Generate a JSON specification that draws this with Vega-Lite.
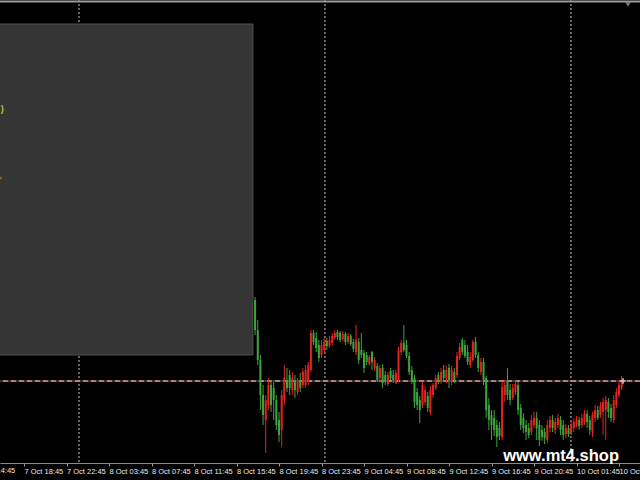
{
  "$schema": "https://vega.github.io/schema/vega-lite/v6.json",
  "width": 640,
  "height": 463,
  "autosize": {"type": "none"},
  "padding": {"left": 0, "top": 0, "right": 0, "bottom": 17},
  "background": "#000000",
  "config": {"view": {"stroke": null, "fill": "#000000"}, "scale": {"continuousPadding": 0}},
  "datasets": {
    "sep": [{"i": 20.7}, {"i": 113.3}, {"i": 205.9}],
    "panel": [{"i1": -10, "i2": 86.2, "p1": 1.1357, "p2": 1.1026}],
    "price": [{"p": 1.1000}],
    "frame": [{"p": 1.13795}],
    "marks": [{"i": 227.4, "p": 1.13765}],
    "cur": [{"i": 225.5, "p": 1.1000}],
    "frag": [{"i": -8.2, "p": 1.1272, "t": ")"}],
    "frag2": [{"i": -8.9, "p": 1.1203}],
    "wm": [{"i": 202.2, "p": 1.0920, "t": "www.mt4.shop"}],
    "firstlabel": [{"i": -17.9, "p": 1.0914, "t": "7 Oct 14:45"}],
    "candles": [
      {"i":87,"o":1.1081,"h":1.1084,"l":1.1046,"c":1.1051},
      {"i":88,"o":1.1051,"h":1.1061,"l":1.1016,"c":1.1021},
      {"i":89,"o":1.1021,"h":1.1026,"l":1.0971,"c":1.0986},
      {"i":90,"o":1.0986,"h":1.0996,"l":1.0956,"c":1.0966},
      {"i":91,"o":1.0961,"h":1.0986,"l":1.0928,"c":1.0981},
      {"i":92,"o":1.0976,"h":1.1003,"l":1.0971,"c":1.0996},
      {"i":93,"o":1.0996,"h":1.1001,"l":1.0969,"c":1.0976},
      {"i":94,"o":1.0993,"h":1.0999,"l":1.0961,"c":1.0981},
      {"i":95,"o":1.0981,"h":1.0986,"l":1.0951,"c":1.0956},
      {"i":96,"o":1.0961,"h":1.0969,"l":1.0939,"c":1.0946},
      {"i":97,"o":1.0951,"h":1.0991,"l":1.0934,"c":1.0986},
      {"i":98,"o":1.0981,"h":1.1016,"l":1.0976,"c":1.1003},
      {"i":99,"o":1.1001,"h":1.1013,"l":1.0989,"c":1.0993},
      {"i":100,"o":1.1006,"h":1.1011,"l":1.0986,"c":1.0993},
      {"i":101,"o":1.0991,"h":1.1009,"l":1.0986,"c":1.1003},
      {"i":102,"o":1.1001,"h":1.1006,"l":1.0983,"c":1.0991},
      {"i":103,"o":1.0989,"h":1.1003,"l":1.0986,"c":1.0999},
      {"i":104,"o":1.1001,"h":1.1008,"l":1.0989,"c":1.0993},
      {"i":105,"o":1.0996,"h":1.1013,"l":1.0993,"c":1.1009},
      {"i":106,"o":1.0996,"h":1.1016,"l":1.0993,"c":1.1011},
      {"i":107,"o":1.0999,"h":1.1019,"l":1.0996,"c":1.1016},
      {"i":108,"o":1.1011,"h":1.1051,"l":1.1009,"c":1.1048},
      {"i":109,"o":1.1048,"h":1.1051,"l":1.1036,"c":1.1039},
      {"i":110,"o":1.1043,"h":1.1049,"l":1.1029,"c":1.1033},
      {"i":111,"o":1.1036,"h":1.1041,"l":1.1019,"c":1.1023},
      {"i":112,"o":1.1026,"h":1.1041,"l":1.1023,"c":1.1036},
      {"i":113,"o":1.1031,"h":1.1043,"l":1.1029,"c":1.1039},
      {"i":114,"o":1.1040,"h":1.1043,"l":1.1031,"c":1.1035},
      {"i":115,"o":1.1035,"h":1.1045,"l":1.1033,"c":1.1041},
      {"i":116,"o":1.1038,"h":1.1048,"l":1.1036,"c":1.1045},
      {"i":117,"o":1.1043,"h":1.1051,"l":1.1041,"c":1.1048},
      {"i":118,"o":1.1049,"h":1.1051,"l":1.1041,"c":1.1044},
      {"i":119,"o":1.1048,"h":1.1050,"l":1.1039,"c":1.1041},
      {"i":120,"o":1.1042,"h":1.1050,"l":1.1040,"c":1.1047},
      {"i":121,"o":1.1047,"h":1.1049,"l":1.1036,"c":1.1039},
      {"i":122,"o":1.1039,"h":1.1048,"l":1.1037,"c":1.1045},
      {"i":123,"o":1.1045,"h":1.1047,"l":1.1035,"c":1.1037},
      {"i":124,"o":1.1039,"h":1.1042,"l":1.1029,"c":1.1032},
      {"i":125,"o":1.1029,"h":1.1056,"l":1.1026,"c":1.1041},
      {"i":126,"o":1.1039,"h":1.1043,"l":1.1017,"c":1.1021},
      {"i":127,"o":1.1031,"h":1.1048,"l":1.1023,"c":1.1026},
      {"i":128,"o":1.1028,"h":1.1031,"l":1.1008,"c":1.1013},
      {"i":129,"o":1.1026,"h":1.1029,"l":1.1016,"c":1.1019},
      {"i":130,"o":1.1017,"h":1.1026,"l":1.1015,"c":1.1024},
      {"i":131,"o":1.1029,"h":1.1030,"l":1.1011,"c":1.1019},
      {"i":132,"o":1.1013,"h":1.1024,"l":1.1010,"c":1.1021},
      {"i":133,"o":1.1015,"h":1.1018,"l":1.0999,"c":1.1001},
      {"i":134,"o":1.1003,"h":1.1016,"l":1.0999,"c":1.1013},
      {"i":135,"o":1.1013,"h":1.1017,"l":1.0993,"c":1.0998},
      {"i":136,"o":1.1006,"h":1.1010,"l":1.0996,"c":1.0999},
      {"i":137,"o":1.0997,"h":1.1009,"l":1.0995,"c":1.1006},
      {"i":138,"o":1.1010,"h":1.1013,"l":1.1001,"c":1.1003},
      {"i":139,"o":1.1006,"h":1.1011,"l":1.0998,"c":1.1001},
      {"i":140,"o":1.0998,"h":1.1011,"l":1.0997,"c":1.1008},
      {"i":141,"o":1.1001,"h":1.1034,"l":1.0999,"c":1.1031},
      {"i":142,"o":1.1029,"h":1.1041,"l":1.1026,"c":1.1038},
      {"i":143,"o":1.1038,"h":1.1056,"l":1.1029,"c":1.1031},
      {"i":144,"o":1.1036,"h":1.1041,"l":1.1023,"c":1.1025},
      {"i":145,"o":1.1025,"h":1.1029,"l":1.1006,"c":1.1009},
      {"i":146,"o":1.1011,"h":1.1015,"l":1.0997,"c":1.0999},
      {"i":147,"o":1.1003,"h":1.1006,"l":1.0973,"c":1.0979},
      {"i":148,"o":1.0989,"h":1.0993,"l":1.0971,"c":1.0976},
      {"i":149,"o":1.0981,"h":1.0985,"l":1.0958,"c":1.0971},
      {"i":150,"o":1.0976,"h":1.0999,"l":1.0973,"c":1.0996},
      {"i":151,"o":1.0979,"h":1.0995,"l":1.0976,"c":1.0991},
      {"i":152,"o":1.0985,"h":1.0989,"l":1.0969,"c":1.0973},
      {"i":153,"o":1.0969,"h":1.0995,"l":1.0966,"c":1.0991},
      {"i":154,"o":1.0986,"h":1.0998,"l":1.0983,"c":1.0996},
      {"i":155,"o":1.0993,"h":1.1006,"l":1.0991,"c":1.1003},
      {"i":156,"o":1.1006,"h":1.1009,"l":1.0997,"c":1.0999},
      {"i":157,"o":1.0999,"h":1.1013,"l":1.0997,"c":1.1009},
      {"i":158,"o":1.1011,"h":1.1016,"l":1.0999,"c":1.1003},
      {"i":159,"o":1.1003,"h":1.1016,"l":1.0998,"c":1.1011},
      {"i":160,"o":1.1013,"h":1.1017,"l":1.0993,"c":1.1001},
      {"i":161,"o":1.0999,"h":1.1015,"l":1.0996,"c":1.1011},
      {"i":162,"o":1.1009,"h":1.1013,"l":1.0998,"c":1.1001},
      {"i":163,"o":1.1006,"h":1.1029,"l":1.1003,"c":1.1025},
      {"i":164,"o":1.1023,"h":1.1038,"l":1.1021,"c":1.1034},
      {"i":165,"o":1.1041,"h":1.1043,"l":1.1026,"c":1.1029},
      {"i":166,"o":1.1036,"h":1.1041,"l":1.1023,"c":1.1025},
      {"i":167,"o":1.1029,"h":1.1036,"l":1.1016,"c":1.1019},
      {"i":168,"o":1.1016,"h":1.1029,"l":1.1013,"c":1.1024},
      {"i":169,"o":1.1021,"h":1.1041,"l":1.1019,"c":1.1039},
      {"i":170,"o":1.1039,"h":1.1044,"l":1.1023,"c":1.1026},
      {"i":171,"o":1.1026,"h":1.1029,"l":1.1009,"c":1.1013},
      {"i":172,"o":1.1009,"h":1.1023,"l":1.1006,"c":1.1019},
      {"i":173,"o":1.1019,"h":1.1023,"l":1.0996,"c":1.1001},
      {"i":174,"o":1.1003,"h":1.1005,"l":1.0963,"c":1.0971},
      {"i":175,"o":1.0976,"h":1.0983,"l":1.0951,"c":1.0961},
      {"i":176,"o":1.0966,"h":1.0971,"l":1.0941,"c":1.0956},
      {"i":177,"o":1.0963,"h":1.0971,"l":1.0945,"c":1.0951},
      {"i":178,"o":1.0956,"h":1.0961,"l":1.0934,"c":1.0944},
      {"i":179,"o":1.0953,"h":1.0959,"l":1.0941,"c":1.0945},
      {"i":180,"o":1.0944,"h":1.0999,"l":1.0941,"c":1.0994},
      {"i":181,"o":1.0986,"h":1.1001,"l":1.0979,"c":1.0996},
      {"i":182,"o":1.1001,"h":1.1013,"l":1.0981,"c":1.0986},
      {"i":183,"o":1.0991,"h":1.0997,"l":1.0976,"c":1.0981},
      {"i":184,"o":1.0983,"h":1.0997,"l":1.0981,"c":1.0993},
      {"i":185,"o":1.0989,"h":1.1001,"l":1.0986,"c":1.0997},
      {"i":186,"o":1.0996,"h":1.0999,"l":1.0966,"c":1.0971},
      {"i":187,"o":1.0973,"h":1.0977,"l":1.0951,"c":1.0956},
      {"i":188,"o":1.0963,"h":1.0968,"l":1.0948,"c":1.0953},
      {"i":189,"o":1.0956,"h":1.0961,"l":1.0941,"c":1.0949},
      {"i":190,"o":1.0953,"h":1.0958,"l":1.0943,"c":1.0946},
      {"i":191,"o":1.0949,"h":1.0966,"l":1.0946,"c":1.0961},
      {"i":192,"o":1.0956,"h":1.0969,"l":1.0953,"c":1.0963},
      {"i":193,"o":1.0963,"h":1.0969,"l":1.0941,"c":1.0953},
      {"i":194,"o":1.0956,"h":1.0961,"l":1.0935,"c":1.0941},
      {"i":195,"o":1.0951,"h":1.0956,"l":1.0940,"c":1.0944},
      {"i":196,"o":1.0949,"h":1.0953,"l":1.0937,"c":1.0943},
      {"i":197,"o":1.0941,"h":1.0961,"l":1.0938,"c":1.0956},
      {"i":198,"o":1.0953,"h":1.0965,"l":1.0949,"c":1.0961},
      {"i":199,"o":1.0961,"h":1.0966,"l":1.0949,"c":1.0953},
      {"i":200,"o":1.0951,"h":1.0963,"l":1.0947,"c":1.0959},
      {"i":201,"o":1.0956,"h":1.0967,"l":1.0953,"c":1.0963},
      {"i":202,"o":1.0961,"h":1.0965,"l":1.0946,"c":1.0951},
      {"i":203,"o":1.0956,"h":1.0961,"l":1.0941,"c":1.0946},
      {"i":204,"o":1.0947,"h":1.0957,"l":1.0943,"c":1.0953},
      {"i":205,"o":1.0953,"h":1.0956,"l":1.0944,"c":1.0947},
      {"i":206,"o":1.0949,"h":1.0961,"l":1.0946,"c":1.0957},
      {"i":207,"o":1.0953,"h":1.0963,"l":1.0949,"c":1.0959},
      {"i":208,"o":1.0957,"h":1.0965,"l":1.0954,"c":1.0961},
      {"i":209,"o":1.0961,"h":1.0964,"l":1.0951,"c":1.0955},
      {"i":210,"o":1.0956,"h":1.0967,"l":1.0953,"c":1.0963},
      {"i":211,"o":1.0959,"h":1.0971,"l":1.0956,"c":1.0967},
      {"i":212,"o":1.0967,"h":1.0971,"l":1.0953,"c":1.0959},
      {"i":213,"o":1.0961,"h":1.0965,"l":1.0946,"c":1.0951},
      {"i":214,"o":1.0949,"h":1.0969,"l":1.0944,"c":1.0966},
      {"i":215,"o":1.0963,"h":1.0976,"l":1.0959,"c":1.0971},
      {"i":216,"o":1.0971,"h":1.0975,"l":1.0961,"c":1.0963},
      {"i":217,"o":1.0966,"h":1.0979,"l":1.0963,"c":1.0975},
      {"i":218,"o":1.0969,"h":1.0983,"l":1.0946,"c":1.0979},
      {"i":219,"o":1.0971,"h":1.0985,"l":1.0941,"c":1.0981},
      {"i":220,"o":1.0979,"h":1.0983,"l":1.0963,"c":1.0969},
      {"i":221,"o":1.0973,"h":1.0977,"l":1.0959,"c":1.0963},
      {"i":222,"o":1.0961,"h":1.0986,"l":1.0958,"c":1.0981},
      {"i":223,"o":1.0976,"h":1.0993,"l":1.0973,"c":1.0989},
      {"i":224,"o":1.0986,"h":1.1001,"l":1.0983,"c":1.0996},
      {"i":225,"o":1.0993,"h":1.1005,"l":1.0991,"c":1.1000}
    ]
  },
  "layer": [
    {
      "data": {"name": "sep"},
      "mark": {"type": "rule", "color": "#c8c8c8", "strokeDash": [2, 2], "strokeWidth": 1},
      "encoding": {
        "x": {
          "field": "i", "type": "quantitative",
          "scale": {"domain": [-9.035, 231.9], "nice": false, "zero": false},
          "axis": {
            "values": [-16, 0, 16, 32, 48, 64, 80, 96, 112, 128, 144, 160, 176, 192, 208, 224],
            "labelExpr": "['7 Oct 14:45','7 Oct 18:45','7 Oct 22:45','8 Oct 03:45','8 Oct 07:45','8 Oct 11:45','8 Oct 15:45','8 Oct 19:45','8 Oct 23:45','9 Oct 04:45','9 Oct 08:45','9 Oct 12:45','9 Oct 16:45','9 Oct 20:45','10 Oct 01:45','10 Oct 05:45'][(datum.value + 16) / 16]",
            "domainColor": "#8a8a8a", "domainWidth": 1,
            "tickColor": "#9a9a9a", "tickSize": 3, "tickWidth": 1,
            "labelColor": "#e8e8e8", "labelFontSize": 7.5, "labelFont": "Liberation Sans",
            "labelAlign": "left", "labelDx": 1, "labelPadding": 1,
            "labelOverlap": false, "labelFlush": false, "labelBound": false,
            "grid": false, "title": null
          }
        }
      }
    },
    {
      "data": {"name": "panel"},
      "mark": {"type": "rect", "fill": "#353535", "stroke": "#4e4e4e", "strokeWidth": 1},
      "encoding": {
        "x": {"field": "i1", "type": "quantitative"},
        "x2": {"field": "i2"},
        "y": {"field": "p1", "type": "quantitative", "scale": {"domain": [1.0918, 1.1381], "nice": false, "zero": false}, "axis": null},
        "y2": {"field": "p2"}
      }
    },
    {
      "data": {"name": "frag"},
      "mark": {"type": "text", "color": "#c8c040", "fontSize": 9, "font": "Liberation Sans", "fontWeight": "bold"},
      "encoding": {
        "x": {"field": "i", "type": "quantitative"},
        "y": {"field": "p", "type": "quantitative"},
        "text": {"field": "t"}
      }
    },
    {
      "data": {"name": "frag2"},
      "mark": {"type": "point", "shape": "square", "size": 6, "filled": true, "color": "#c07a20"},
      "encoding": {
        "x": {"field": "i", "type": "quantitative"},
        "y": {"field": "p", "type": "quantitative"}
      }
    },
    {
      "data": {"name": "price"},
      "mark": {"type": "rule", "color": "#6a6a78", "strokeWidth": 1},
      "encoding": {"y": {"field": "p", "type": "quantitative"}}
    },
    {
      "data": {"name": "price"},
      "mark": {"type": "rule", "color": "#f09080", "strokeWidth": 1.5, "strokeDash": [5, 3]},
      "encoding": {"y": {"field": "p", "type": "quantitative"}}
    },
    {
      "data": {"name": "candles"},
      "mark": {"type": "rule", "strokeWidth": 1},
      "encoding": {
        "x": {"field": "i", "type": "quantitative"},
        "y": {"field": "l", "type": "quantitative"},
        "y2": {"field": "h"},
        "color": {"condition": {"test": "datum.c >= datum.o", "value": "#e3231f"}, "value": "#3ea43e"}
      }
    },
    {
      "data": {"name": "candles"},
      "mark": {"type": "bar", "size": 2},
      "encoding": {
        "x": {"field": "i", "type": "quantitative"},
        "y": {"field": "o", "type": "quantitative"},
        "y2": {"field": "c"},
        "color": {"condition": {"test": "datum.c >= datum.o", "value": "#e3231f"}, "value": "#3ea43e"}
      }
    },
    {
      "data": {"name": "cur"},
      "mark": {"type": "point", "shape": "cross", "size": 28, "filled": true, "color": "#f4d4d4"},
      "encoding": {
        "x": {"field": "i", "type": "quantitative"},
        "y": {"field": "p", "type": "quantitative"}
      }
    },
    {
      "data": {"name": "frame"},
      "mark": {"type": "rule", "color": "#9a9a9a", "strokeWidth": 2},
      "encoding": {"y": {"field": "p", "type": "quantitative"}}
    },
    {
      "data": {"name": "marks"},
      "mark": {"type": "point", "shape": "triangle-down", "size": 30, "filled": true, "color": "#a8a8a8"},
      "encoding": {
        "x": {"field": "i", "type": "quantitative"},
        "y": {"field": "p", "type": "quantitative"}
      }
    },
    {
      "data": {"name": "firstlabel"},
      "mark": {"type": "text", "color": "#e8e8e8", "fontSize": 7.5, "font": "Liberation Sans", "align": "left", "baseline": "top"},
      "encoding": {
        "x": {"field": "i", "type": "quantitative"},
        "y": {"field": "p", "type": "quantitative"},
        "text": {"field": "t"}
      }
    },
    {
      "data": {"name": "wm"},
      "mark": {"type": "text", "color": "#ffffff", "fontSize": 16.5, "fontWeight": "bold", "font": "Liberation Sans", "align": "center", "baseline": "alphabetic"},
      "encoding": {
        "x": {"field": "i", "type": "quantitative"},
        "y": {"field": "p", "type": "quantitative"},
        "text": {"field": "t"}
      }
    }
  ]
}
